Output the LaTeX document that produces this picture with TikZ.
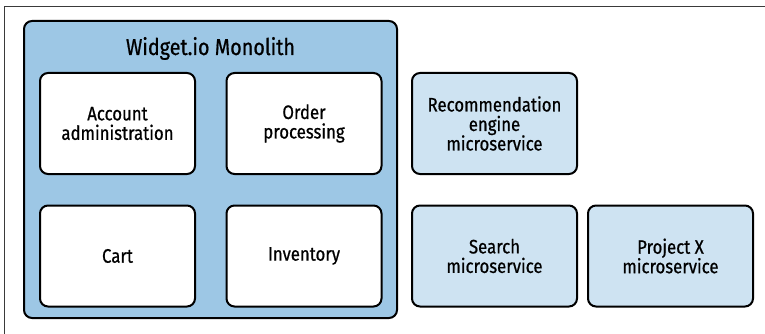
\documentclass[tikz,border=0pt]{standalone}
\usepackage{fontspec}
\setmainfont[FakeStretch=0.86, FakeBold=0.7]{Fira Sans}
\definecolor{monofill}{HTML}{9DC7E5}
\definecolor{svcfill}{HTML}{CEE3F2}
\definecolor{framegray}{HTML}{3A3A3A}
\begin{document}
\begin{tikzpicture}[x=1pt,y=-1pt,
  card/.style={draw=black, line width=2pt, rounded corners=8pt,
    align=center, inner sep=0pt,
    font=\fontsize{19.5}{19.5}\selectfont},
  part/.style={card, fill=white, minimum width=155pt, minimum height=101pt},
  svc/.style={card, fill=svcfill, minimum width=165pt, minimum height=101pt},
  mono/.style={card, fill=monofill, minimum width=373pt, minimum height=297pt},
  frame/.style={draw=framegray, line width=0.9pt}]
\useasboundingbox (0,0) rectangle (765,334);

% page frame (top and left edges)
\coordinate (fl) at (4,334);
\coordinate (fc) at (4,6);
\coordinate (fr) at (765,6);
\draw[frame] (fl) -- (fc) -- (fr);

% the monolith and its modules
\node[mono] (mono) at (210.5,169.5) {};
\node[anchor=base, font=\fontsize{23}{23}\selectfont] (title) at (210.5,55) {Widget.io Monolith};
\node[part] (acct) at (117.5,123.5) {Account\\administration};
\node[part] (order) at (304,123.5) {Order\\processing};
\node[part] (cart) at (117.5,256) {Cart};
\node[part] (inv) at (304,256) {Inventory};

% standalone microservices
\node[svc] (reco) at (494.5,123.5) {Recommendation\\engine\\microservice};
\node[svc] (search) at (494.5,256) {Search\\microservice};
\node[svc] (projx) at (670.5,256) {Project X\\microservice};
\end{tikzpicture}
\end{document}
